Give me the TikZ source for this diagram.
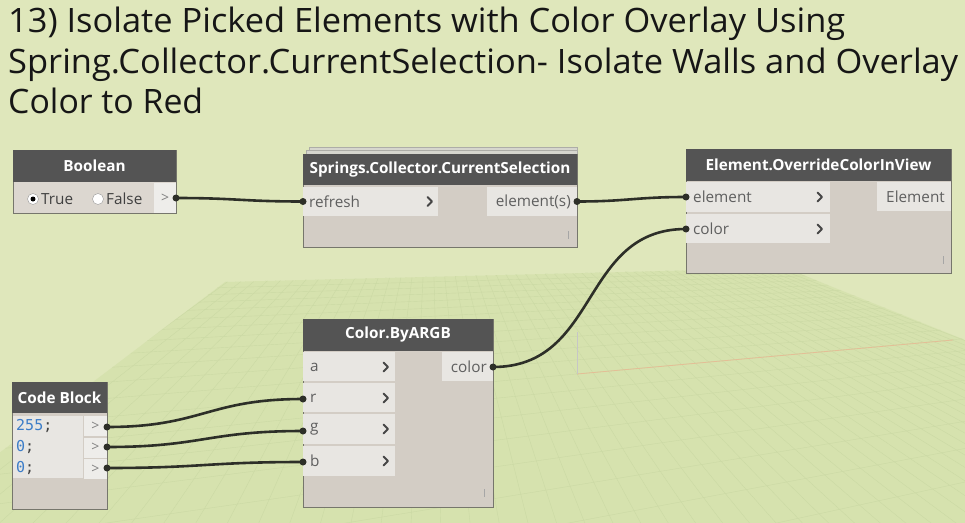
\documentclass[tikz,border=0pt]{standalone}
\usepackage{fontspec}
\setmainfont{Open Sans}
\newfontfamily\monof{DejaVu Sans Mono}
\usetikzlibrary{calc}
\definecolor{bgc}{RGB}{223,231,187}
\definecolor{planec}{RGB}{214,226,174}
\definecolor{gridc}{RGB}{203,217,164}
\definecolor{hdr}{RGB}{84,84,84}
\definecolor{bodyc}{RGB}{211,205,197}
\definecolor{rowc}{RGB}{232,230,226}
\definecolor{rowlt}{RGB}{238,237,234}
\definecolor{rowtxt}{RGB}{95,95,95}
\definecolor{wirec}{RGB}{45,47,40}
\definecolor{borderc}{RGB}{118,118,108}
\definecolor{codeblue}{RGB}{60,125,200}
\definecolor{chevc}{RGB}{70,70,70}
\definecolor{titlec}{RGB}{22,22,22}
\definecolor{axisred}{RGB}{228,190,150}
\tikzset{
  box/.style 2 args={minimum width=#1, minimum height=#2, inner sep=0pt, outer sep=0pt, anchor=north west, rectangle},
  bodybox/.style={fill=bodyc, draw=borderc, line width=0.9pt},
  hdrbox/.style={fill=hdr, text=white, font=\bfseries\fontsize{15.3}{18}\selectfont},
  rowbox/.style={fill=rowc},
  portbox/.style={fill=rowlt},
  rowtext/.style={text=rowtxt, inner sep=0pt, font=\fontsize{15.3}{18}\selectfont},
  codetext/.style={inner sep=0pt, anchor=west, font=\monof\fontsize{15}{18}\selectfont},
  wire/.style={draw=wirec, line width=2.6pt},
  portdot/.style={circle, fill=wirec, inner sep=0pt, minimum size=7pt},
  gridline/.style={draw=gridc, line width=0.4pt},
  tick/.style={draw=gray!70, line width=0.9pt},
  chev/.pic={\draw[line width=2pt, color=chevc, line cap=round, line join=round] (-2.5,-4.5) -- (2,0) -- (-2.5,4.5);},
  titletext/.style={anchor=base west, inner sep=0pt, text=titlec, font=\fontsize{33.6}{40}\selectfont}
}
\begin{document}
\begin{tikzpicture}[x=1pt,y=-1pt]
\useasboundingbox (0,0) rectangle (965,522);
\fill[bgc] (0,0) rectangle (965,522);
% ground plane with perspective grid
\begin{scope}
\clip (225,282) -- (785,268) -- (975,344) -- (975,530) -- (-10,530) -- (-10,460) -- cycle;
\fill[planec] (-10,250) rectangle (975,530);
\foreach \m in {-9,...,12} {
  \pgfmathsetmacro{\yy}{143+3557/(15.4+\m)}
  \pgfmathsetmacro{\sl}{(235-\yy)/1523}
  \pgfmathsetmacro{\yL}{\yy-587*\sl}
  \pgfmathsetmacro{\yR}{\yy+398*\sl}
  \draw[gridline] (-10,\yL) -- (975,\yR);
}
\foreach \j in {-26,...,34} {
  \pgfmathsetmacro{\tt}{\j/(\j+95)}
  \pgfmathsetmacro{\px}{577+1523*\tt}
  \pgfmathsetmacro{\py}{374-139*\tt}
  \pgfmathsetmacro{\ex}{430+4*(\px-430)}
  \pgfmathsetmacro{\ey}{134+4*(\py-134)}
  \draw[gridline] (430,134) -- (\ex,\ey);
}
\end{scope}
\coordinate (orig) at (577,374);
\coordinate (xend) at (953,340);
\coordinate (zend) at (577,332);
\draw[axisred, line width=0.8pt] (orig) -- (xend);
\draw[gray!45, line width=0.7pt] (orig) -- (zend);

% title
\node[titletext] (t1) at (8,32) {\resizebox{837pt}{\height}{13) Isolate Picked Elements with Color Overlay Using}};
\node[titletext] (t2) at (8,73) {\resizebox{950pt}{\height}{Spring.Collector.CurrentSelection- Isolate Walls and Overlay}};
\node[titletext] (t3) at (8,113) {\resizebox{195pt}{\height}{Color to Red}};

% Boolean node
\node[box={163pt}{63pt}, bodybox, fill={rgb,255:red,220;green,215;blue,208}] (boolbody) at (13,150) {};
\node[box={163pt}{32pt}, hdrbox] (boolhdr) at (13,150) {Boolean};
\node[box={22pt}{30pt}, portbox] (boolport) at (154,183) {\color{gray}\fontsize{14}{16}\selectfont >};
\node[circle, draw=gray!80, fill=white, minimum size=11pt, inner sep=0pt] (rtrue) at (33,199) {};
\node[circle, fill=black, minimum size=5pt, inner sep=0pt] (rtruedot) at (rtrue.center) {};
\node[circle, draw=gray!80, fill=white, minimum size=11pt, inner sep=0pt] (rfalse) at (98,199) {};
\node[rowtext, anchor=west, text=black!75] (ttrue) at (41,199) {True};
\node[rowtext, anchor=west, text=black!75] (tfalse) at (106,199) {False};

% Springs node (stacked)
\node[box={268pt}{10pt}, fill={rgb,255:red,214;green,214;blue,206}, draw=borderc!60, line width=0.6pt] (sprstack2) at (309,147) {};
\node[box={271pt}{10pt}, fill={rgb,255:red,214;green,214;blue,206}, draw=borderc!60, line width=0.6pt] (sprstack1) at (306,150) {};
\node[box={274pt}{93pt}, bodybox] (sprbody) at (303,154) {};
\node[box={274pt}{31pt}, hdrbox] (sprhdr) at (303,154) {Springs.Collector.CurrentSelection};
\node[box={135pt}{29pt}, rowbox] (sprin) at (303,187) {};
\node[rowtext, anchor=west] (trefresh) at (309,201.5) {refresh};
\pic at (430,201.5) {chev};
\node[box={90pt}{29pt}, rowbox] (sprout) at (487,187) {};
\node[rowtext, anchor=east] (telems) at (571,201.5) {element(s)};
\coordinate (sprtick) at (568,235);
\draw[tick] ($(sprtick)+(0,-4)$) -- ($(sprtick)+(0,4)$);

% Element.OverrideColorInView node
\node[box={265pt}{124pt}, bodybox] (elbody) at (686,149) {};
\node[box={265pt}{32pt}, hdrbox] (elhdr) at (686,149) {Element.OverrideColorInView};
\node[box={144pt}{30pt}, rowbox] (elin1) at (686,182) {};
\node[rowtext, anchor=west] (telement) at (693,197) {element};
\pic at (820,197) {chev};
\node[box={144pt}{29pt}, rowbox] (elin2) at (686,214) {};
\node[rowtext, anchor=west] (tcolor) at (693,229) {color};
\pic at (820,229) {chev};
\node[box={74pt}{29pt}, rowbox] (elout) at (877,182) {};
\node[rowtext, anchor=east] (tElement) at (945,197) {Element};
\coordinate (eltick) at (943,260);
\draw[tick] ($(eltick)+(0,-4)$) -- ($(eltick)+(0,4)$);

% Color.ByARGB node
\node[box={190pt}{188pt}, bodybox] (cbody) at (303,319) {};
\node[box={190pt}{32pt}, hdrbox] (chdr) at (303,319) {Color.ByARGB};
\node[box={92pt}{29pt}, rowbox] (ca) at (303,352) {};
\node[box={92pt}{29pt}, rowbox] (cr) at (303,383) {};
\node[box={92pt}{30pt}, rowbox] (cg) at (303,414) {};
\node[box={92pt}{30pt}, rowbox] (cb) at (303,446) {};
\node[rowtext, anchor=west] (ta) at (310,367) {a};
\node[rowtext, anchor=west] (tr) at (310,398) {r};
\node[rowtext, anchor=west] (tg) at (310,429) {g};
\node[rowtext, anchor=west] (tb) at (310,461) {b};
\pic at (386,367) {chev};
\pic at (386,398) {chev};
\pic at (386,429) {chev};
\pic at (386,461) {chev};
\node[box={51pt}{29pt}, rowbox] (cout) at (442,352) {};
\node[rowtext, anchor=east] (tcout) at (487,367) {color};
\coordinate (ctick) at (484,493);
\draw[tick] ($(ctick)+(0,-4)$) -- ($(ctick)+(0,4)$);

% Code Block node
\node[box={95pt}{127pt}, bodybox] (cbbody) at (12,382) {};
\node[box={95pt}{31pt}, hdrbox] (cbhdr) at (12,382) {Code Block};
\node[box={70pt}{62pt}, rowbox] (cbtext) at (12.5,416) {};
\node[box={23pt}{20pt}, portbox] (cbp1) at (84,416) {\color{gray}\fontsize{14}{16}\selectfont >};
\node[box={23pt}{20pt}, portbox] (cbp2) at (84,437.5) {\color{gray}\fontsize{14}{16}\selectfont >};
\node[box={23pt}{20pt}, portbox] (cbp3) at (84,459) {\color{gray}\fontsize{14}{16}\selectfont >};
\node[codetext] (c255) at (16,426) {\textcolor{codeblue}{255}\textcolor{black!75}{;}};
\node[codetext] (c0a) at (16,447) {\textcolor{codeblue}{0}\textcolor{black!75}{;}};
\node[codetext] (c0b) at (16,468) {\textcolor{codeblue}{0}\textcolor{black!75}{;}};

% port coordinates
\coordinate (boolo) at (176,198);
\coordinate (spri) at (303,201.5);
\coordinate (spro) at (577,201.5);
\coordinate (eli1) at (686,197);
\coordinate (eli2) at (686,229);
\coordinate (colo) at (493,367);
\coordinate (cri) at (303,399);
\coordinate (cgi) at (303,431);
\coordinate (cbi) at (303,462);
\coordinate (cbo1) at (107,427);
\coordinate (cbo2) at (107,447);
\coordinate (cbo3) at (107,468);

% wires
\draw[wire] (boolo) .. controls +(60,0) and +(-60,0) .. (spri);
\draw[wire] (spro) .. controls +(50,0) and +(-50,0) .. (eli1);
\draw[wire] (colo) .. controls +(107,0) and +(-106,0) .. (eli2);
\draw[wire] (cbo1) .. controls +(95,0) and +(-95,0) .. (cri);
\draw[wire] (cbo2) .. controls +(95,0) and +(-95,0) .. (cgi);
\draw[wire] (cbo3) .. controls +(95,0) and +(-95,0) .. (cbi);
\foreach \p in {boolo,spri,spro,eli1,eli2,colo,cri,cgi,cbi,cbo1,cbo2,cbo3}
  \node[portdot] at (\p) {};
\end{tikzpicture}
\end{document}
